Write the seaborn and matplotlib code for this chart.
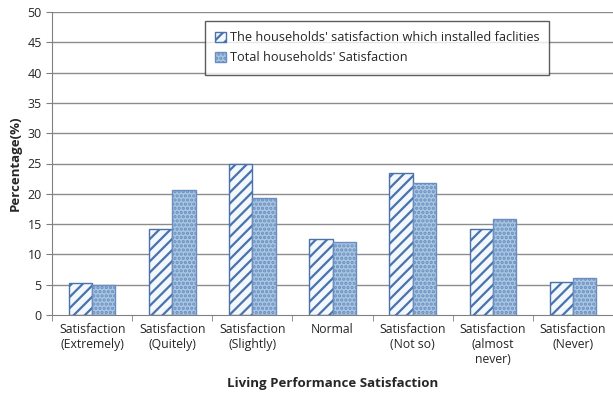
import matplotlib
matplotlib.use("Agg")
import matplotlib.pyplot as plt
import pandas as pd
import seaborn as sns

categories = ["Satisfaction\n(Extremely)", "Satisfaction\n(Quitely)", "Satisfaction\n(Slightly)",
              "Normal", "Satisfaction\n(Not so)", "Satisfaction\n(almost\nnever)", "Satisfaction\n(Never)"]
installed = [5.3, 14.2, 25.0, 12.5, 23.4, 14.2, 5.4]
total = [4.9, 20.6, 19.3, 12.1, 21.8, 15.8, 6.1]
series = ["The households' satisfaction which installed faclities", "Total households' Satisfaction"]


def main():
    df = pd.DataFrame({"category": categories * 2,
                       "series": [series[0]] * 7 + [series[1]] * 7,
                       "value": installed + total})

    sns.set_style("white")
    plt.rcParams["font.family"] = ["Open Sans", "DejaVu Sans"]
    plt.rcParams["hatch.linewidth"] = 1.6

    fig = plt.figure(figsize=(6.13, 4.0), dpi=100)
    ax = fig.add_axes([0.085, 0.2125, 0.915, 0.7575])

    for y in range(5, 51, 5):
        ax.axhline(y, color="#8c8c8c", lw=1.0, zorder=0)

    ax = sns.barplot(data=df, x="category", y="value", hue="series", ax=ax,
                     width=0.58, palette=["#f2f8fe", "#a9c6e2"], saturation=1,
                     edgecolor="#3f6aa6", linewidth=1.0, zorder=2)

    hatches = ["///", "...."]
    for ct, h in zip(ax.containers, hatches):
        for bar in ct:
            bar.set_hatch(h)
            bar.set_edgecolor("#4a72ab" if h == "///" else "#6a8ec0")

    ax.set_ylim(0, 50)
    ax.set_xlim(-0.5, 6.5)
    ax.set_yticks(range(0, 51, 5))
    ax.tick_params(axis="y", labelsize=9, length=4, left=True, color="#808080")
    ax.tick_params(axis="x", which="major", labelsize=8.8, length=0, pad=6)
    ax.set_xticks([i + 0.5 for i in range(-1, 7)], minor=True)
    ax.tick_params(axis="x", which="minor", length=4, bottom=True, color="#808080")
    for side in ["top", "right"]:
        ax.spines[side].set_visible(False)
    for side in ["left", "bottom"]:
        ax.spines[side].set_color("#808080")

    ax.set_ylabel("Percentage(%)", fontweight="bold", fontsize=9.5)
    ax.set_xlabel("Living Performance Satisfaction", fontweight="bold", fontsize=9.5, labelpad=8)

    # rebuild legend so the handles carry the hatches
    handles = [ct.patches[0] for ct in ax.containers]
    ax.legend(handles, series, loc="upper left", bbox_to_anchor=(0.273, 0.97), frameon=True,
              fancybox=False, edgecolor="#333333", fontsize=9.2, handlelength=0.8,
              handleheight=0.8, handletextpad=0.3, borderpad=0.8, labelspacing=0.55,
              borderaxespad=0)
    leg = ax.get_legend()
    leg.get_frame().set_linewidth(1.0)

    plt.savefig("out.png", dpi=100)


if __name__ == "__main__":
    main()
